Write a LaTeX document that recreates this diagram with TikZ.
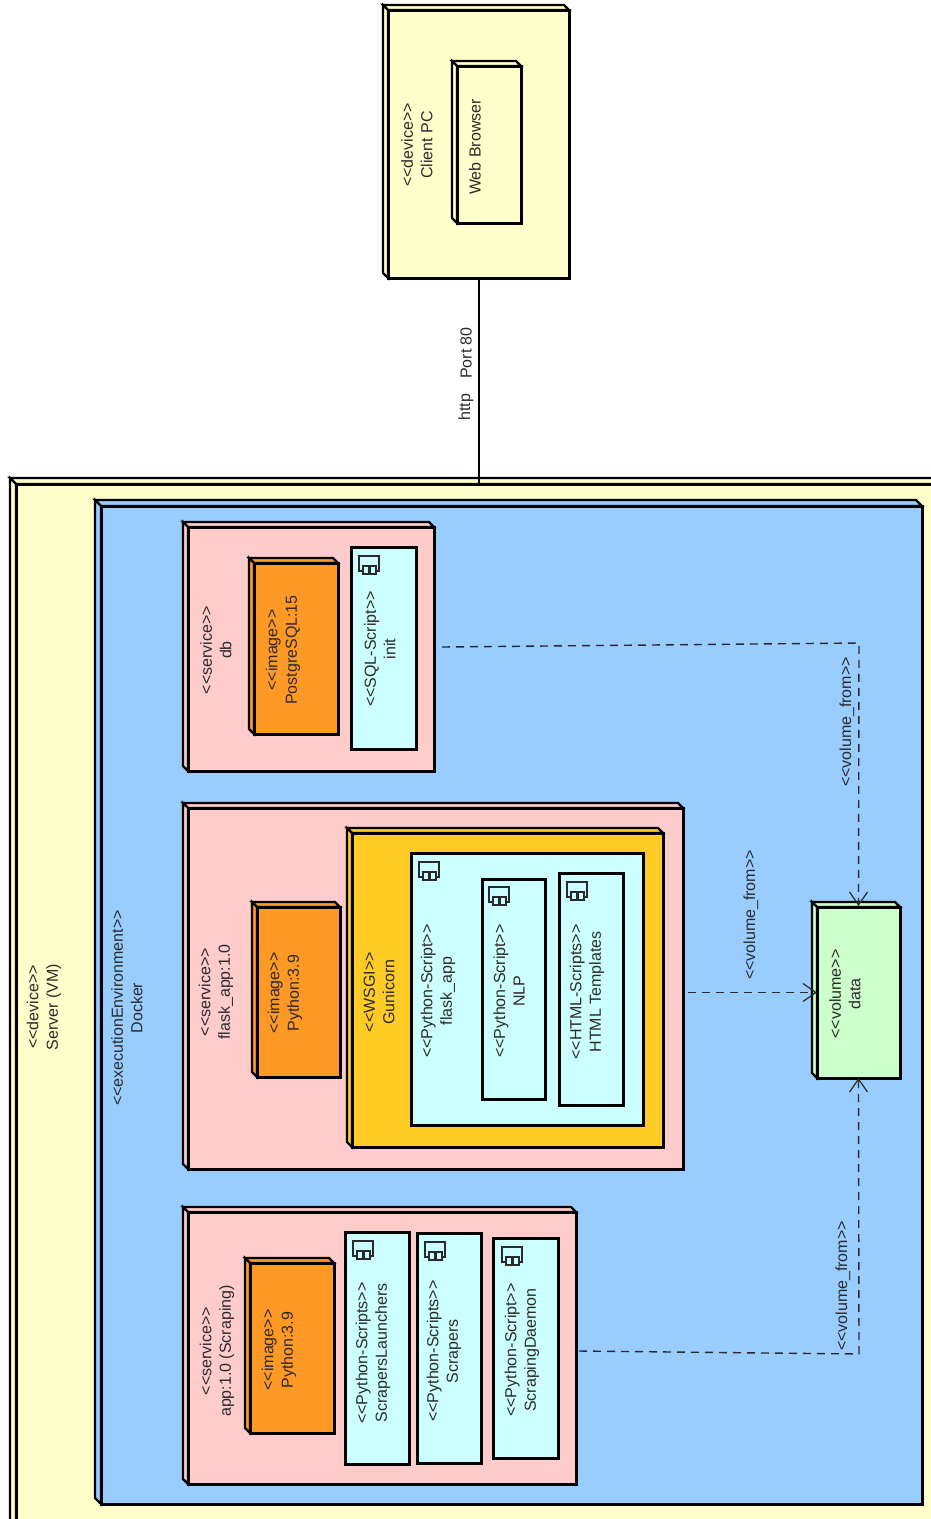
\documentclass[tikz,border=0pt]{standalone}
\usepackage{fontspec}
\setmainfont{Liberation Sans}
\usepackage{xcolor}
\usetikzlibrary{arrows.meta,positioning}
\definecolor{devcol}{HTML}{FFFFCC}
\definecolor{dockercol}{HTML}{99CCFF}
\definecolor{servicecol}{HTML}{FFCCCC}
\definecolor{imagecol}{HTML}{FF9926}
\definecolor{wsgicol}{HTML}{FFCC26}
\definecolor{scriptcol}{HTML}{CCFFFF}
\definecolor{volumecol}{HTML}{CCFFCC}
\definecolor{inkcol}{HTML}{2A2A2A}
\newcommand{\stereo}[1]{<\kern0pt<#1>\kern0pt>}

\begin{document}
\begin{tikzpicture}[
  x=1pt, y=-1pt,
  >={Straight Barb[length=13pt,width=18pt,line width=1.2pt]},
  boxsize/.style args={#1/#2}{minimum width=#1pt, minimum height=#2pt},
  box/.style={draw=black, line width=3pt, fill=#1, anchor=north west, inner sep=0pt, outer sep=0pt, line join=miter},
  rottext/.style={rotate=90, align=center, inner sep=0pt, text=inkcol, font=\fontsize{16}{19.5}\selectfont},
  volumelink/.style={->, dash pattern=on 8pt off 6pt, line width=1.4pt, draw=inkcol},
  artifacticon/.pic={
    \draw[line width=1.1pt, draw=inkcol] (0,15) -- (0,0) -- (20,0) -- (20,15) -- cycle;
    \draw[line width=1.1pt, draw=inkcol, fill=scriptcol] (4,10) rectangle (10,18);
    \draw[line width=1.1pt, draw=inkcol, fill=scriptcol] (11,10) rectangle (17,18);
  }
]
\useasboundingbox (0,0) rectangle (931,1519);
\clip (0,0) rectangle (931,1519);
% client side
\node[box=devcol, boxsize=181/268] (clientpc) at (388,10) {};
\node[box=devcol, boxsize=64/157] (webbrowser) at (457,66) {};
% server and docker
\node[box=devcol, boxsize=950/1080] (server) at (16,484) {};
\node[box=dockercol, boxsize=821/998] (docker) at (101,506) {};
% services
\node[box=servicecol, boxsize=246/244] (db) at (188,527) {};
\node[box=servicecol, boxsize=495/361] (flaskservice) at (188,808) {};
\node[box=servicecol, boxsize=388/272] (appservice) at (188,1212) {};
% images
\node[box=imagecol, boxsize=84/171] (postgres) at (254,563) {};
\node[box=imagecol, boxsize=83/170] (flaskpython) at (257,907) {};
\node[box=imagecol, boxsize=84/170] (apppython) at (250,1263) {};
% wsgi and scripts
\node[box=wsgicol, boxsize=311/314] (gunicorn) at (352,833) {};
\node[box=scriptcol, boxsize=65/202] (init) at (351,547) {};
\node[box=scriptcol, boxsize=232/272] (flaskapp) at (411,853) {};
\node[box=scriptcol, boxsize=63/220] (nlp) at (482,879) {};
\node[box=scriptcol, boxsize=64/232] (templates) at (559,873) {};
\node[box=scriptcol, boxsize=64/232] (launchers) at (345,1232) {};
\node[box=scriptcol, boxsize=64/230] (scrapers) at (417,1233) {};
\node[box=scriptcol, boxsize=65/220] (daemon) at (493,1238) {};
\node[box=volumecol, boxsize=83/171] (data) at (817,907) {};
% extruded edges
\foreach \n/\c/\d in {clientpc/devcol/5,webbrowser/devcol/5,server/devcol/6,docker/dockercol/6,db/servicecol/5,flaskservice/servicecol/5,appservice/servicecol/5,postgres/imagecol/5,flaskpython/imagecol/5,apppython/imagecol/5,gunicorn/wsgicol/5,data/volumecol/5}{
  \draw[line width=2.2pt, line join=miter, fill=\c] (\n.north west) -- ++(-\d pt,\d pt) -- ([xshift=-\d pt,yshift=\d pt]\n.north east) -- (\n.north east) -- cycle;
  \draw[line width=2.2pt, line join=miter, fill=\c] (\n.north west) -- ++(-\d pt,\d pt) -- ([xshift=-\d pt,yshift=\d pt]\n.south west) -- (\n.south west) -- cycle;
}
% icons
\foreach \n/\a/\b in {init/359/556,flaskapp/419/862,nlp/489/887,templates/567/882,launchers/353/1241,scrapers/425/1242,daemon/502/1247}{
  \pic at (\a,\b) {artifacticon};
}
% texts
\node[rottext] (clientpctext) at (417,145) {\stereo{device}\\Client PC};
\node[rottext] (browsertext) at (475,147) {Web Browser};
\node[rottext] (servertext) at (44,1007) {\stereo{device}\\Server (VM)};
\node[rottext] (dockertext) at (127,1008) {\stereo{executionEnvironment}\\Docker};
\node[rottext] (dbtext) at (216,650) {\stereo{service}\\db};
\node[rottext] (postgrestext) at (283,650) {\stereo{image}\\PostgreSQL:15};
\node[rottext] (inittext) at (380,649) {\stereo{SQL-Script}\\init};
\node[rottext] (flaskservicetext) at (216,992) {\stereo{service}\\flask\_app:1.0};
\node[rottext] (flaskpythontext) at (285,993) {\stereo{image}\\Python:3.9};
\node[rottext] (gunicorntext) at (379,992) {\stereo{WSGI}\\Gunicorn};
\node[rottext] (flaskapptext) at (438,991) {\stereo{Python-Script}\\flask\_app};
\node[rottext] (nlptext) at (509,991) {\stereo{Python-Script}\\NLP};
\node[rottext] (templatestext) at (587,992) {\stereo{HTML-Scripts}\\HTML Templates};
\node[rottext] (appservicetext) at (217,1351) {\stereo{service}\\app:1.0 (Scraping)};
\node[rottext] (apppythontext) at (279,1350) {\stereo{image}\\Python:3.9};
\node[rottext] (launcherstext) at (373,1353) {\stereo{Python-Scripts}\\ScrapersLaunchers};
\node[rottext] (scraperstext) at (444,1351) {\stereo{Python-Scripts}\\Scrapers};
\node[rottext] (daemontext) at (522,1350) {\stereo{Python-Script}\\ScrapingDaemon};
\node[rottext] (datatext) at (845,994) {\stereo{volume}\\data};
% connectors
\draw[line width=1.1pt, draw=black] (clientpc.south -| 479,0) -- (server.north -| 479,0);
\node[rottext] (httplabel) at (466,407) {http};
\node[rottext] (portlabel) at (466,353) {Port 80};
\coordinate (dbbend) at (859,643);
\coordinate (appbend) at (859,1354);
\draw[volumelink] ([xshift=8pt,yshift=2pt]db.east) -- (dbbend) -- ([yshift=1pt]data.north);
\draw[volumelink] ([xshift=5pt]flaskservice.east |- data.west) -- (data.west);
\draw[volumelink] ([xshift=3pt,yshift=-3pt]appservice.east) -- (appbend) -- (data.south);
\node[rottext] (dblink) at (847,722) {\stereo{volume\_from}};
\node[rottext] (flasklink) at (751,915) {\stereo{volume\_from}};
\node[rottext] (applink) at (843,1286) {\stereo{volume\_from}};
\end{tikzpicture}
\end{document}
